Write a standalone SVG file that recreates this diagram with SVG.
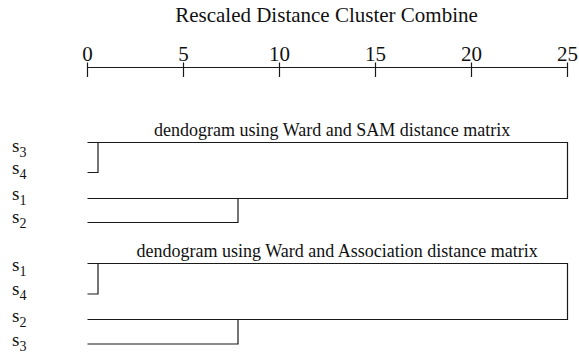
<svg xmlns="http://www.w3.org/2000/svg" width="579" height="356" viewBox="0 0 579 356">
  <style>
    text { font-family: "Liberation Serif", "Times New Roman", serif; fill: #111; }
    .title { font-size: 21px; }
    .tick { font-size: 21px; text-anchor: middle; }
    .sub { font-size: 18px; }
    .leaf { font-size: 19px; }
    .idx { font-size: 14px; }
    .ln { stroke: #1a1a1a; stroke-width: 1.2; fill: none; }
  </style>
  <rect width="579" height="356" fill="#fff"/>

  <!-- scale header -->
  <g id="axis">
    <text class="title" x="326.5" y="22" text-anchor="middle">Rescaled Distance Cluster Combine</text>
    <text class="tick" x="87.5" y="61">0</text>
    <text class="tick" x="183.5" y="61">5</text>
    <text class="tick" x="279.5" y="61">10</text>
    <text class="tick" x="375.5" y="61">15</text>
    <text class="tick" x="471.5" y="61">20</text>
    <text class="tick" x="567.5" y="61">25</text>
    <path class="ln" d="M87.5 67.5 H567.5 M87.5 62.5 V77 M183.5 62.5 V77 M279.5 62.5 V77 M375.5 62.5 V77 M471.5 62.5 V77 M567.5 62.5 V77"/>
  </g>

  <!-- first dendrogram: Ward + SAM -->
  <g id="caption-sam">
    <text class="sub" x="154" y="136">dendogram using Ward and SAM distance matrix</text>
  </g>
  <g id="sam-s3"><text class="leaf" x="12" y="152">s<tspan class="idx" dy="5">3</tspan></text></g>
  <g id="sam-s4"><text class="leaf" x="12" y="174">s<tspan class="idx" dy="5">4</tspan></text></g>
  <g id="sam-s1"><text class="leaf" x="12" y="200">s<tspan class="idx" dy="5">1</tspan></text></g>
  <g id="sam-s2"><text class="leaf" x="12" y="223">s<tspan class="idx" dy="5">2</tspan></text></g>

  <!-- second dendrogram: Ward + Association -->
  <g id="caption-assoc">
    <text class="sub" x="136.5" y="257">dendogram using Ward and Association distance matrix</text>
  </g>
  <g id="assoc-s1"><text class="leaf" x="12" y="271">s<tspan class="idx" dy="5">1</tspan></text></g>
  <g id="assoc-s4"><text class="leaf" x="12" y="295">s<tspan class="idx" dy="5">4</tspan></text></g>
  <g id="assoc-s2"><text class="leaf" x="12" y="322">s<tspan class="idx" dy="5">2</tspan></text></g>
  <g id="assoc-s3"><text class="leaf" x="12" y="346">s<tspan class="idx" dy="5">3</tspan></text></g>

  <!-- merge links -->
  <g id="connectors">
    <path class="ln" d="M87.5 142.5 H567.5 V198.5 H87.5"/>
    <path class="ln" d="M98 142.5 V172.5 H87.5"/>
    <path class="ln" d="M238 198.5 V222.5 H87.5"/>

    <path class="ln" d="M87.5 263.5 H567.5 V319.5 H87.5"/>
    <path class="ln" d="M98 263.5 V294 H87.5"/>
    <path class="ln" d="M238 319.5 V344 H87.5"/>
  </g>
</svg>
